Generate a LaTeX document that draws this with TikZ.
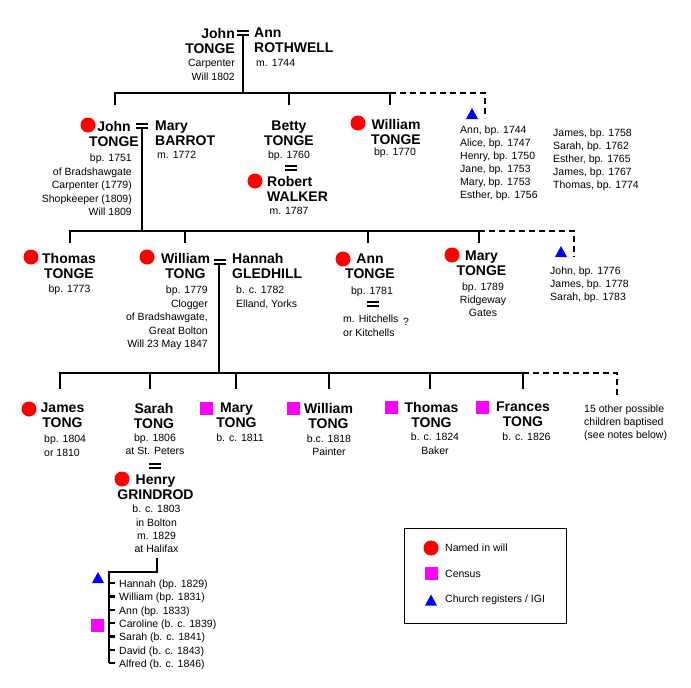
\documentclass[tikz,border=0pt]{standalone}
\usepackage{fontspec}
\setmainfont{Liberation Sans}
\definecolor{willred}{HTML}{FF0000}
\definecolor{census}{HTML}{FF00FF}
\definecolor{church}{HTML}{0000FF}
\tikzset{
  nm/.style={inner sep=0pt, font=\fontsize{14}{15}\selectfont\bfseries},
  dt/.style={inner sep=0pt, font=\fontsize{10.5}{13.5}\selectfont},
  lst/.style={inner sep=0pt, font=\fontsize{10.5}{13}\selectfont, align=left, anchor=north west},
  ln/.style={line width=2.2pt},
  dsh/.style={line width=2.2pt, dash pattern=on 6pt off 4pt},
  reddot/.style={circle, fill=willred, minimum size=15pt, inner sep=0pt},
  censq/.style={rectangle, fill=census, minimum size=13pt, inner sep=0pt},
  eqs/.pic={\draw[line width=2pt] (-6,-2) -- (6,-2) (-6,2) -- (6,2);},
  tri/.pic={\fill[church] (-6,5.5) -- (6,5.5) -- (0,-5.5) -- cycle;}
}
\begin{document}
\begin{tikzpicture}[x=1pt,y=-1pt]
\useasboundingbox (0,0) rectangle (691,688);
\fill[white] (0,0) rectangle (691,688);

% ---------- generation 0
\node[nm, align=right, anchor=north east] (nJohn0) at (235,28) {John\\TONGE};
\node[dt, align=right, anchor=north east] (dJohn0) at (235,59) {Carpenter\\Will 1802};
\node[nm, align=left, anchor=north west] (nAnn0) at (254,28) {Ann\\ROTHWELL};
\node[dt, align=left, anchor=north west] (dAnn0) at (256,59) {m. 1744};
\pic at (243,33) {eqs};

% ---------- generation 1
\node[reddot] (pJohn1) at (88,125) {};
\node[nm, align=center, anchor=north] (nJohn1) at (114,121) {John\\TONGE};
\node[dt, align=right, anchor=north east] (dJohn1) at (132,154) {bp. 1751\\of Bradshawgate\\Carpenter (1779)\\Shopkeeper (1809)\\Will 1809};
\pic at (142,126) {eqs};
\node[nm, align=left, anchor=north west] (nMary1) at (155,121) {Mary\\BARROT};
\node[dt, align=left, anchor=north west] (dMary1) at (157,151) {m. 1772};

\node[nm, align=center, anchor=north] (nBetty) at (289,121) {Betty\\TONGE};
\node[dt, align=center, anchor=north] (dBetty) at (289,151) {bp. 1760};
\pic at (291,168) {eqs};
\node[reddot] (pRobert) at (255,181) {};
\node[nm, align=left, anchor=north west] (nRobert) at (267,176) {Robert\\WALKER};
\node[dt, align=center, anchor=north] (dRobert) at (289,207) {m. 1787};

\node[reddot] (pWilliam1) at (358,123) {};
\node[nm, align=center, anchor=north] (nWilliam1) at (396,119) {William\\TONGE};
\node[dt, align=center, anchor=north] (dWilliam1) at (395,148) {bp. 1770};

\pic at (472,113.5) {tri};
\node[lst] (list1a) at (460,126) {Ann, bp. 1744\\Alice, bp. 1747\\Henry, bp. 1750\\Jane, bp. 1753\\Mary, bp. 1753\\Esther, bp. 1756};
\node[lst] (list1b) at (553,129) {James, bp. 1758\\Sarah, bp. 1762\\Esther, bp. 1765\\James, bp. 1767\\Thomas, bp. 1774};

% connectors 0 -> 1
\coordinate (m0) at (243,35);
\coordinate (r1) at (243,93);
\coordinate (k1a) at (115,105);
\coordinate (k1b) at (289,105);
\coordinate (k1c) at (390,105);
\coordinate (k1x) at (485,118);
\draw[ln] (m0) -- (r1);
\draw[ln] (k1a) |- (r1) -| (k1c);
\draw[ln] (k1b) -- (k1b |- r1);
\draw[dsh] (k1c |- r1) -| (k1x);

% ---------- generation 2
\node[reddot] (pThomas2) at (31,257) {};
\node[nm, align=center, anchor=north] (nThomas2) at (69,253) {Thomas\\TONGE};
\node[dt, align=center, anchor=north] (dThomas2) at (69.5,285) {bp. 1773};

\node[reddot] (pWilliam2) at (147,257) {};
\node[nm, align=center, anchor=north] (nWilliam2) at (185.5,253) {William\\TONG};
\node[dt, align=right, anchor=north east] (dWilliam2) at (208,286) {bp. 1779\\Clogger\\of Bradshawgate,\\Great Bolton\\Will 23 May 1847};
\pic at (220,262) {eqs};
\node[nm, align=left, anchor=north west] (nHannah) at (232,253) {Hannah\\GLEDHILL};
\node[dt, align=left, anchor=north west] (dHannah) at (236,286) {b. c. 1782\\Elland, Yorks};

\node[reddot] (pAnn2) at (343,259) {};
\node[nm, align=center, anchor=north] (nAnn2) at (370,254) {Ann\\TONGE};
\node[dt, align=center, anchor=north] (dAnn2) at (372,287) {bp. 1781};
\pic at (373,304) {eqs};
\node[dt, align=left, anchor=north west] (dAnn2m) at (343,315) {m. Hitchells\\or Kitchells};
\node[dt, anchor=north west] (qAnn2) at (403,318) {?};

\node[reddot] (pMary2) at (452,255) {};
\node[nm, align=center, anchor=north] (nMary2) at (481.5,251) {Mary\\TONGE};
\node[dt, align=center, anchor=north, font=\fontsize{10.5}{12.8}\selectfont] (dMary2) at (483,283) {bp. 1789\\Ridgeway\\Gates};

\pic at (561,251.5) {tri};
\node[lst] (list2) at (550,267) {John, bp. 1776\\James, bp. 1778\\Sarah, bp. 1783};

% connectors 1 -> 2
\coordinate (m1) at (142,128);
\coordinate (r2) at (142,231);
\coordinate (k2a) at (70,243);
\coordinate (k2b) at (185,243);
\coordinate (k2c) at (368,243);
\coordinate (k2d) at (479,243);
\coordinate (k2x) at (574,257);
\draw[ln] (m1) -- (r2);
\draw[ln] (k2a) |- (r2) -| (k2d);
\draw[ln] (k2b) -- (k2b |- r2);
\draw[ln] (k2c) -- (k2c |- r2);
\draw[dsh] (k2d |- r2) -| (k2x);

% ---------- generation 3
\node[reddot] (pJames3) at (29,409) {};
\node[nm, align=center, anchor=north] (nJames3) at (62.5,403) {James\\TONG};
\node[dt, align=left, anchor=north west] (dJames3) at (44,435) {bp. 1804\\or 1810};

\node[nm, align=center, anchor=north] (nSarah3) at (154,403) {Sarah\\TONG};
\node[dt, align=center, anchor=north, font=\fontsize{10.5}{13}\selectfont] (dSarah3) at (155,434) {bp. 1806\\at St. Peters};
\pic at (155,465.5) {eqs};
\node[reddot] (pHenry) at (122,479) {};
\node[nm, align=center, anchor=north] (nHenry) at (155.5,475) {Henry\\GRINDROD};
\node[dt, align=center, anchor=north, font=\fontsize{10.5}{13.3}\selectfont] (dHenry) at (156.5,505) {b. c. 1803\\in Bolton\\m. 1829\\at Halifax};

\node[censq] (sMary3) at (206.5,408) {};
\node[nm, align=center, anchor=north] (nMary3) at (236.5,403) {Mary\\TONG};
\node[dt, align=center, anchor=north] (dMary3) at (240,434) {b. c. 1811};

\node[censq] (sWilliam3) at (293.5,408.5) {};
\node[nm, align=center, anchor=north] (nWilliam3) at (328.5,403) {William\\TONG};
\node[dt, align=center, anchor=north, font=\fontsize{10.5}{13}\selectfont] (dWilliam3) at (329,435) {b.c. 1818\\Painter};

\node[censq] (sThomas3) at (391.5,407.5) {};
\node[nm, align=center, anchor=north] (nThomas3) at (431.5,402) {Thomas\\TONG};
\node[dt, align=center, anchor=north, font=\fontsize{10.5}{13.5}\selectfont] (dThomas3) at (435,433) {b. c. 1824\\Baker};

\node[censq] (sFrances3) at (482.5,407.5) {};
\node[nm, align=center, anchor=north] (nFrances3) at (523,402) {Frances\\TONG};
\node[dt, align=center, anchor=north] (dFrances3) at (526.5,433) {b. c. 1826};

\node[lst] (others3) at (584,405) {15 other possible\\children baptised\\(see notes below)};

% connectors 2 -> 3
\coordinate (m2) at (219,264);
\coordinate (r3) at (219,373);
\coordinate (k3a) at (60,389);
\coordinate (k3b) at (150,389);
\coordinate (k3c) at (236,389);
\coordinate (k3d) at (329,389);
\coordinate (k3e) at (430,389);
\coordinate (k3f) at (523,389);
\coordinate (k3x) at (617,397);
\draw[ln] (m2) -- (r3);
\draw[ln] (k3a) |- (r3) -| (k3f);
\draw[ln] (k3b) -- (k3b |- r3);
\draw[ln] (k3c) -- (k3c |- r3);
\draw[ln] (k3d) -- (k3d |- r3);
\draw[ln] (k3e) -- (k3e |- r3);
\draw[dsh] (k3f |- r3) -| (k3x);

% ---------- generation 4 (children of Sarah and Henry)
\pic at (98,577.5) {tri};
\node[censq] (sCaroline) at (97.5,625.5) {};
\coordinate (m3) at (157,558);
\coordinate (r4) at (157,572);
\coordinate (gb) at (109,663);
\foreach \i/\y/\t in {1/583/Hannah (bp. 1829), 2/596.5/William (bp. 1831), 3/610/Ann (bp. 1833), 4/623/Caroline (b. c. 1839), 5/636.5/Sarah (b. c. 1841), 6/650/David (b. c. 1843), 7/663/Alfred (b. c. 1846)} {
  \coordinate (g\i) at (115,\y);
  \node[dt, anchor=base west] (gc\i) at (119,\y+4) {\t};
  \draw[ln] (g\i -| gb) -- (g\i);
}
\draw[ln] (m3) -- (r4) -| (gb);

% ---------- legend
\node[draw, line width=1pt, minimum width=162pt, minimum height=95pt, inner sep=0pt, anchor=north west] (legend) at (404,528) {};
\node[reddot] (lgDot) at (431,548) {};
\node[dt, anchor=west] (lgDotT) at (445,548) {Named in will};
\node[censq] (lgSq) at (431.5,573.5) {};
\node[dt, anchor=west] (lgSqT) at (445,574) {Census};
\pic at (431,600) {tri};
\node[dt, anchor=west] (lgTriT) at (445,600) {Church registers / IGI};
\end{tikzpicture}
\end{document}
